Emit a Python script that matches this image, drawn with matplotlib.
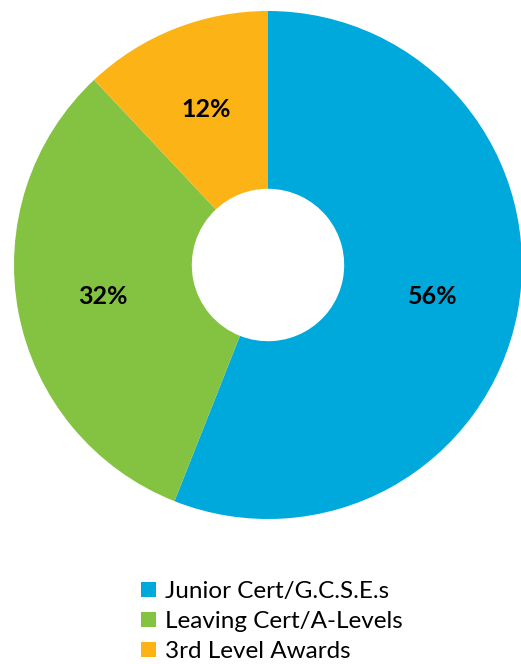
import matplotlib
matplotlib.use("Agg")
import matplotlib.pyplot as plt
from matplotlib.patches import Patch

# Share of qualifications (percent)
categories = ["Junior Cert/G.C.S.E.s", "Leaving Cert/A-Levels", "3rd Level Awards"]
shares = [56, 32, 12]
colors = ["#00A9DB", "#84C341", "#FBB316"]

plt.rcParams["font.family"] = ["Lato", "DejaVu Sans"]

fig = plt.figure(figsize=(5.21, 6.64), dpi=100)
ax = fig.add_axes([14 / 521, 145 / 664, 508 / 521, 508 / 664])

wedges, texts, autotexts = ax.pie(
    shares,
    colors=colors,
    startangle=90,
    counterclock=False,
    radius=1.0,
    autopct="%d%%",
    pctdistance=0.66,
    wedgeprops={"width": 0.70, "linewidth": 0},
    textprops={"fontsize": 18, "fontweight": "bold", "color": "black"},
)
ax.set_xlim(-1, 1)
ax.set_ylim(-1, 1)
ax.set_aspect("equal")
ax.axis("off")

handles = [Patch(facecolor=c, edgecolor="none") for c in colors]
fig.legend(
    handles,
    categories,
    loc="upper left",
    bbox_to_anchor=(141 / 521, 1 - 581 / 664),
    frameon=False,
    fontsize=17.5,
    handlelength=0.62,
    handleheight=0.62,
    handletextpad=0.35,
    labelspacing=0.37,
    borderpad=0,
    borderaxespad=0,
)

fig.savefig("out.png", dpi=100)
